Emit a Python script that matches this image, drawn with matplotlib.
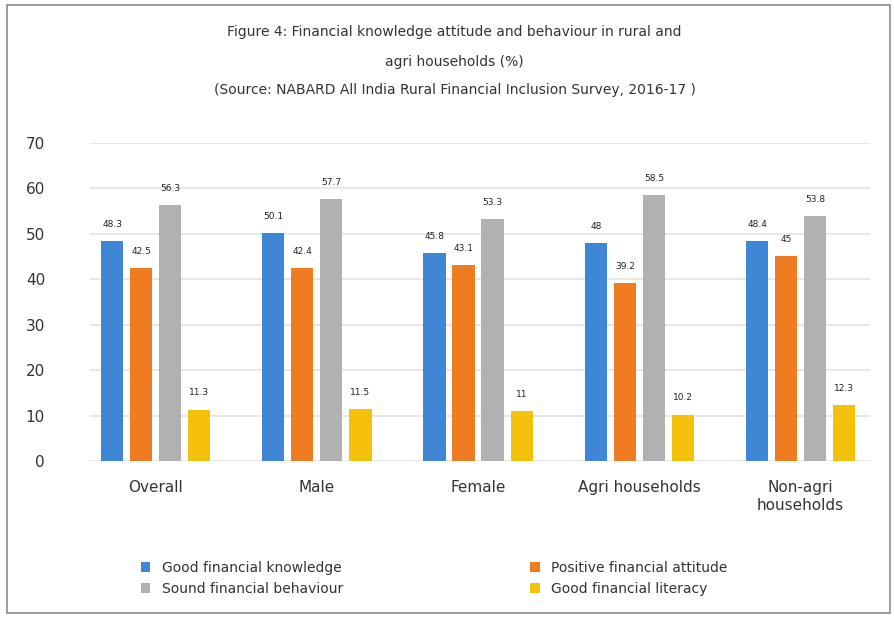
import matplotlib.pyplot as plt
from matplotlib.patches import Rectangle
import numpy as np

# categories et valeurs (%)
categories = ['Overall', 'Male', 'Female', 'Agri households', 'Non-agri\nhouseholds']
series_names = ['Good financial knowledge', 'Positive financial attitude',
                'Sound financial behaviour', 'Good financial literacy']
knowledge = [48.3, 50.1, 45.8, 48.0, 48.4]
attitude = [42.5, 42.4, 43.1, 39.2, 45.0]
behaviour = [56.3, 57.7, 53.3, 58.5, 53.8]
literacy = [11.3, 11.5, 11.0, 10.2, 12.3]

colors = ['#3f87d4', '#ef7b22', '#b1b1b1', '#f4c20d']

fig = plt.figure(figsize=(8.95, 6.18), dpi=100)
ax = fig.add_axes([0.1, 0.254, 0.872, 0.515])

x = np.arange(len(categories))
step = 0.18
width = 0.138
all_series = [knowledge, attitude, behaviour, literacy]
bars = []
for i, vals in enumerate(all_series):
    b = ax.bar(x + (i - 1.5) * step, vals, width, color=colors[i],
               label=series_names[i], zorder=3)
    bars.append(b)
    for rect, v in zip(b, vals):
        ax.annotate('%g' % v, (rect.get_x() + rect.get_width() / 2, rect.get_height()),
                    xytext=(0, 12), textcoords='offset points', ha='center',
                    va='center', fontsize=6.5, color='#222222', zorder=4)

ax.set_ylim(0, 70)
ax.set_xlim(-0.41, 4.43)
ax.set_yticks(range(0, 71, 10))
ax.set_xticks(x)
ax.set_xticklabels(categories, fontsize=11, color='#333333')
ax.tick_params(axis='y', labelsize=11, labelcolor='#333333', length=0, pad=32)
ax.tick_params(axis='x', length=0, pad=14)
ax.grid(axis='y', color='#e3e3e3', linewidth=1.2, zorder=0)
for s in ax.spines.values():
    s.set_visible(False)

# titre sur trois lignes
fig.text(0.508, 0.948, 'Figure 4: Financial knowledge attitude and behaviour in rural and',
         ha='center', va='center', fontsize=10, color='#333333')
fig.text(0.508, 0.9, 'agri households (%)', ha='center', va='center',
         fontsize=10, color='#333333')
fig.text(0.508, 0.854, '(Source: NABARD All India Rural Financial Inclusion Survey, 2016-17 )',
         ha='center', va='center', fontsize=10, color='#333333')

# légende en deux colonnes
handles = [bars[0], bars[2], bars[1], bars[3]]
labels = [series_names[0], series_names[2], series_names[1], series_names[3]]
fig.legend(handles, labels, loc='center', bbox_to_anchor=(0.485, 0.064), ncol=2,
           frameon=False, fontsize=10, handlelength=0.7, handleheight=0.7,
           columnspacing=13.5, labelcolor='#333333', borderaxespad=0)

# cadre autour du graphique
fig.patches.append(Rectangle((0.008, 0.008), 0.986, 0.984, transform=fig.transFigure,
                             fill=False, edgecolor='#8a8a8a', linewidth=1.2))

fig.savefig('out.png', dpi=100)
